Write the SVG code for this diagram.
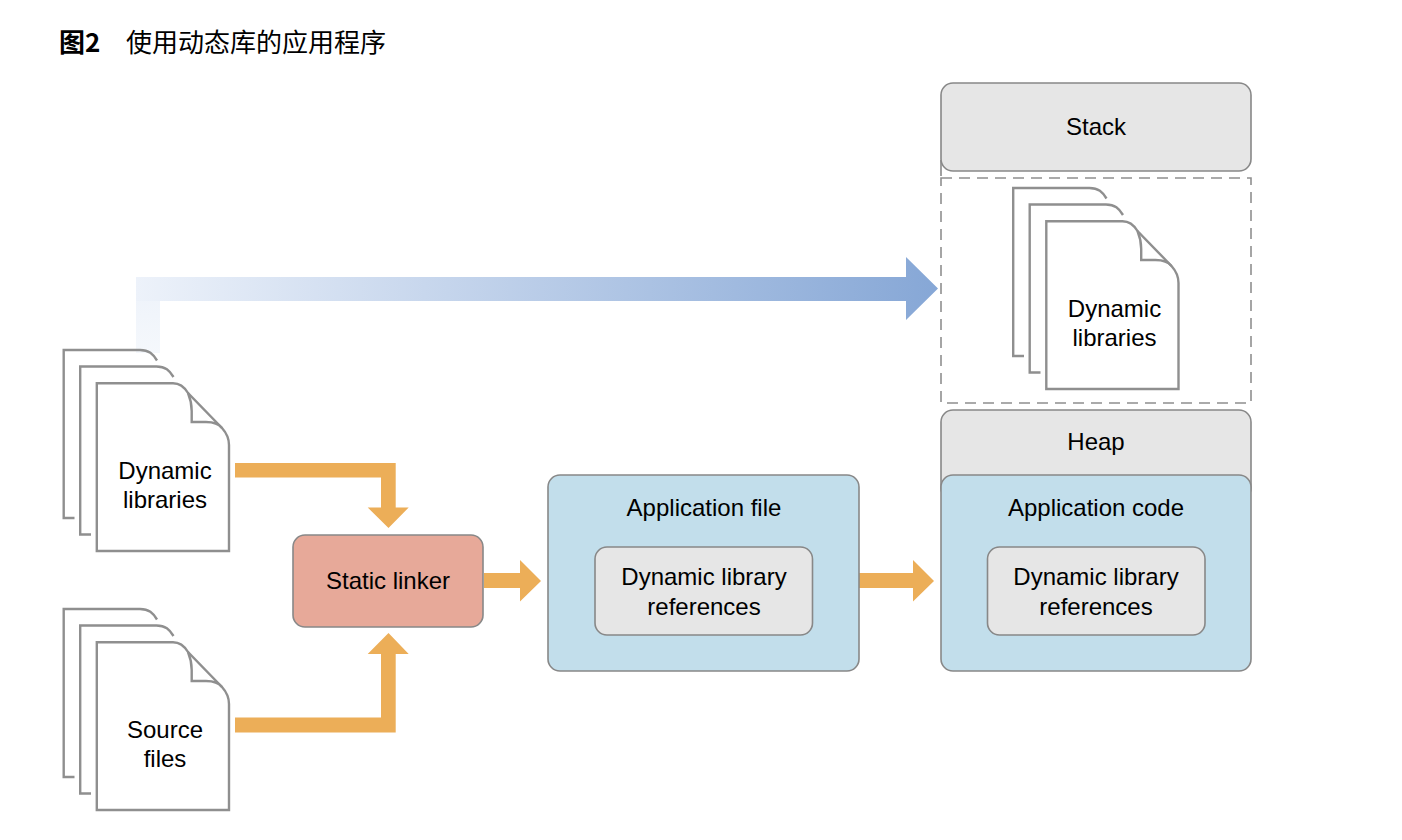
<svg xmlns="http://www.w3.org/2000/svg" xmlns:xlink="http://www.w3.org/1999/xlink" width="1402" height="840" viewBox="0 0 1402 840">
<style>
text{font-family:"Liberation Sans",Arial,sans-serif;font-size:24px;fill:#000;text-anchor:middle}
.title{font-family:"Noto Sans CJK SC","Liberation Sans",sans-serif;font-size:26px;text-anchor:start;fill:#000}
.box{stroke:#888;stroke-width:1.6}
.gray{fill:#e6e6e6}.blue{fill:#c2deeb}.red{fill:#e7a999}
.doc{fill:#fff;stroke:#8f8f8f;stroke-width:2.4}
.fold{fill:none;stroke:#8f8f8f;stroke-width:2.4}
.back{fill:none;stroke:#8f8f8f;stroke-width:2.4}
.dash{fill:none;stroke:#8f8f8f;stroke-width:1.6;stroke-dasharray:11 7}
.orange{fill:#ecae58}
</style>
<defs>
<linearGradient id="fade" gradientUnits="userSpaceOnUse" x1="136" y1="0" x2="938" y2="0">
<stop offset="0" stop-color="#edf2fa"/><stop offset="1" stop-color="#86a7d6"/>
</linearGradient>
<linearGradient id="fadeV" gradientUnits="userSpaceOnUse" x1="0" y1="277" x2="0" y2="355">
<stop offset="0" stop-color="#edf2fa"/><stop offset="1" stop-color="#f5f8fc"/>
</linearGradient>
<g id="stack">
<path class="back" d="M74.500 518H63.700V350H140C149 350 153 354 157 360.500"/>
<path class="back" d="M91 534.500H80.200V366.500H156.500C165.500 366.500 169.500 370.500 173.500 377"/>
<path class="doc" d="M96.800 383.200H173C181 383.200 185 388 188 393L222 428C226.500 433 229 438 229 445V551H96.800Z"/>
<path class="fold" d="M188 393C190.500 399 191.700 404 191.700 411V422H206C214 422 219 424 222 428"/>
</g>
</defs>
<rect width="1402" height="840" fill="#fff"/>
<g id="title">
<text class="title" x="59" y="52" style="font-weight:700">图2</text>
<text class="title" x="126" y="52">使用动态库的应用程序</text>
</g>
<g id="connectors">
<rect x="136" y="277" width="24" height="76" fill="url(#fadeV)"/>
<path fill="url(#fade)" d="M136 277H906V257L938 288.500L906 320V301H136Z"/>
<path class="orange" d="M235 463H395.700V507.500H408.700L388.500 528L367.700 507.500H381V477.500H235Z"/>
<path class="orange" d="M235 717.500H381V654H367.700L388.500 633L408.700 654H395.700V732.500H235Z"/>
<path class="orange" d="M484 573H520V560L541 581L520 601.500V588H484Z"/>
<path class="orange" d="M859 573H913V560L934 581L913 601.500V588H859Z"/>
</g>
<g id="doc-dynamic-left"><use xlink:href="#stack" href="#stack"/><text x="165" y="479">Dynamic</text><text x="165" y="508">libraries</text></g>
<g id="doc-source"><use xlink:href="#stack" href="#stack" y="259"/><text x="165" y="738">Source</text><text x="165" y="767">files</text></g>
<g id="static-linker"><rect class="box red" x="293" y="535" width="190" height="92" rx="12"/><text x="388" y="589">Static linker</text></g>
<g id="application-file"><rect class="box blue" x="548" y="475" width="311" height="196" rx="12"/><text x="704" y="516">Application file</text>
<rect class="box gray" x="595" y="547" width="217.500" height="88" rx="12"/><text x="704" y="585">Dynamic library</text><text x="704" y="615">references</text></g>
<g id="stack-box"><path class="box" fill="none" d="M941 160V176"/><rect class="box gray" x="941" y="83" width="310" height="88" rx="12"/><text x="1096" y="135">Stack</text></g>
<g id="mapped-region"><rect class="dash" x="941" y="178" width="310" height="225"/><use xlink:href="#stack" href="#stack" x="949.500" y="-162"/><text x="1114.500" y="317">Dynamic</text><text x="1114.500" y="346">libraries</text></g>
<g id="heap"><rect class="box gray" x="941" y="410" width="310" height="90" rx="12"/><text x="1096" y="450">Heap</text></g>
<g id="application-code"><rect class="box blue" x="941" y="475" width="310" height="196" rx="12"/><text x="1096" y="516">Application code</text>
<rect class="box gray" x="987.500" y="547" width="217.500" height="88" rx="12"/><text x="1096" y="585">Dynamic library</text><text x="1096" y="615">references</text></g>
</svg>
